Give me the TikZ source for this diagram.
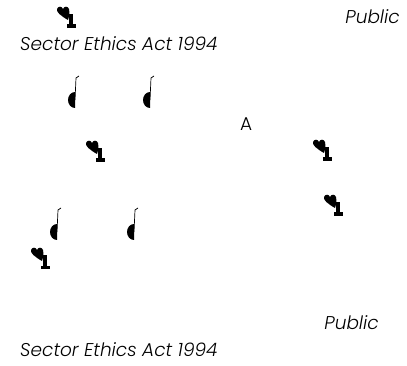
\documentclass[tikz,border=0pt]{standalone}
\usepackage{fontspec}
\newfontfamily\thinfont{Poppins Light}
\usepackage{tikz}
\def\lamp(#1,#2){\begin{scope}[shift={(#1,#2)}]\fill (11,13) .. controls (4,9) and (-1,5) .. (0,2) .. controls (1,-1) and (5,-1) .. (6,2) .. controls (7,-1) and (11,-1) .. (12,2) .. controls (13,6) and (12,10) .. (11,13); \fill (12,7) rectangle (16,20); \fill (10,17.5) rectangle (19,21); \end{scope}}
\def\note(#1,#2){\begin{scope}[shift={(#1,#2)}]\fill (7,16) arc (270:90:7 and 8) -- cycle; \draw[line width=0.7pt] (7,24) -- (8,2) -- (11,0); \end{scope}}

\begin{document}
\begin{tikzpicture}[x=1pt, y=-1pt]
		%%%%% START %%%%%
		
		\useasboundingbox (0,0) rectangle (407,366);
		
		\node[anchor=base east, inner sep=0, font=\thinfont\itshape\fontsize{18.5}{22}\selectfont] (pubtop) at (400,24) {Public};
		\node[anchor=base west, inner sep=0, font=\thinfont\itshape\fontsize{18.5}{22}\selectfont] (acttop) at (20,51) {Sector Ethics Act 1994};
		
		\lamp(57,7)
		\note(68,76)
		\note(143,76)
		
		\node[anchor=base west, inner sep=0, font=\thinfont\fontsize{18.5}{22}\selectfont] (mark) at (240,131) {A};
		
		\lamp(86,141)
		\lamp(313,140)
		\lamp(324,195)
		
		\note(50,208)
		\note(127,208)
		\lamp(31,248)
		
		\node[anchor=base east, inner sep=0, font=\thinfont\itshape\fontsize{18.5}{22}\selectfont] (pubbot) at (379,329) {Public};
		\node[anchor=base west, inner sep=0, font=\thinfont\itshape\fontsize{18.5}{22}\selectfont] (actbot) at (20,356) {Sector Ethics Act 1994};
		
		%%%%% END %%%%%
	\end{tikzpicture}
\end{document}
